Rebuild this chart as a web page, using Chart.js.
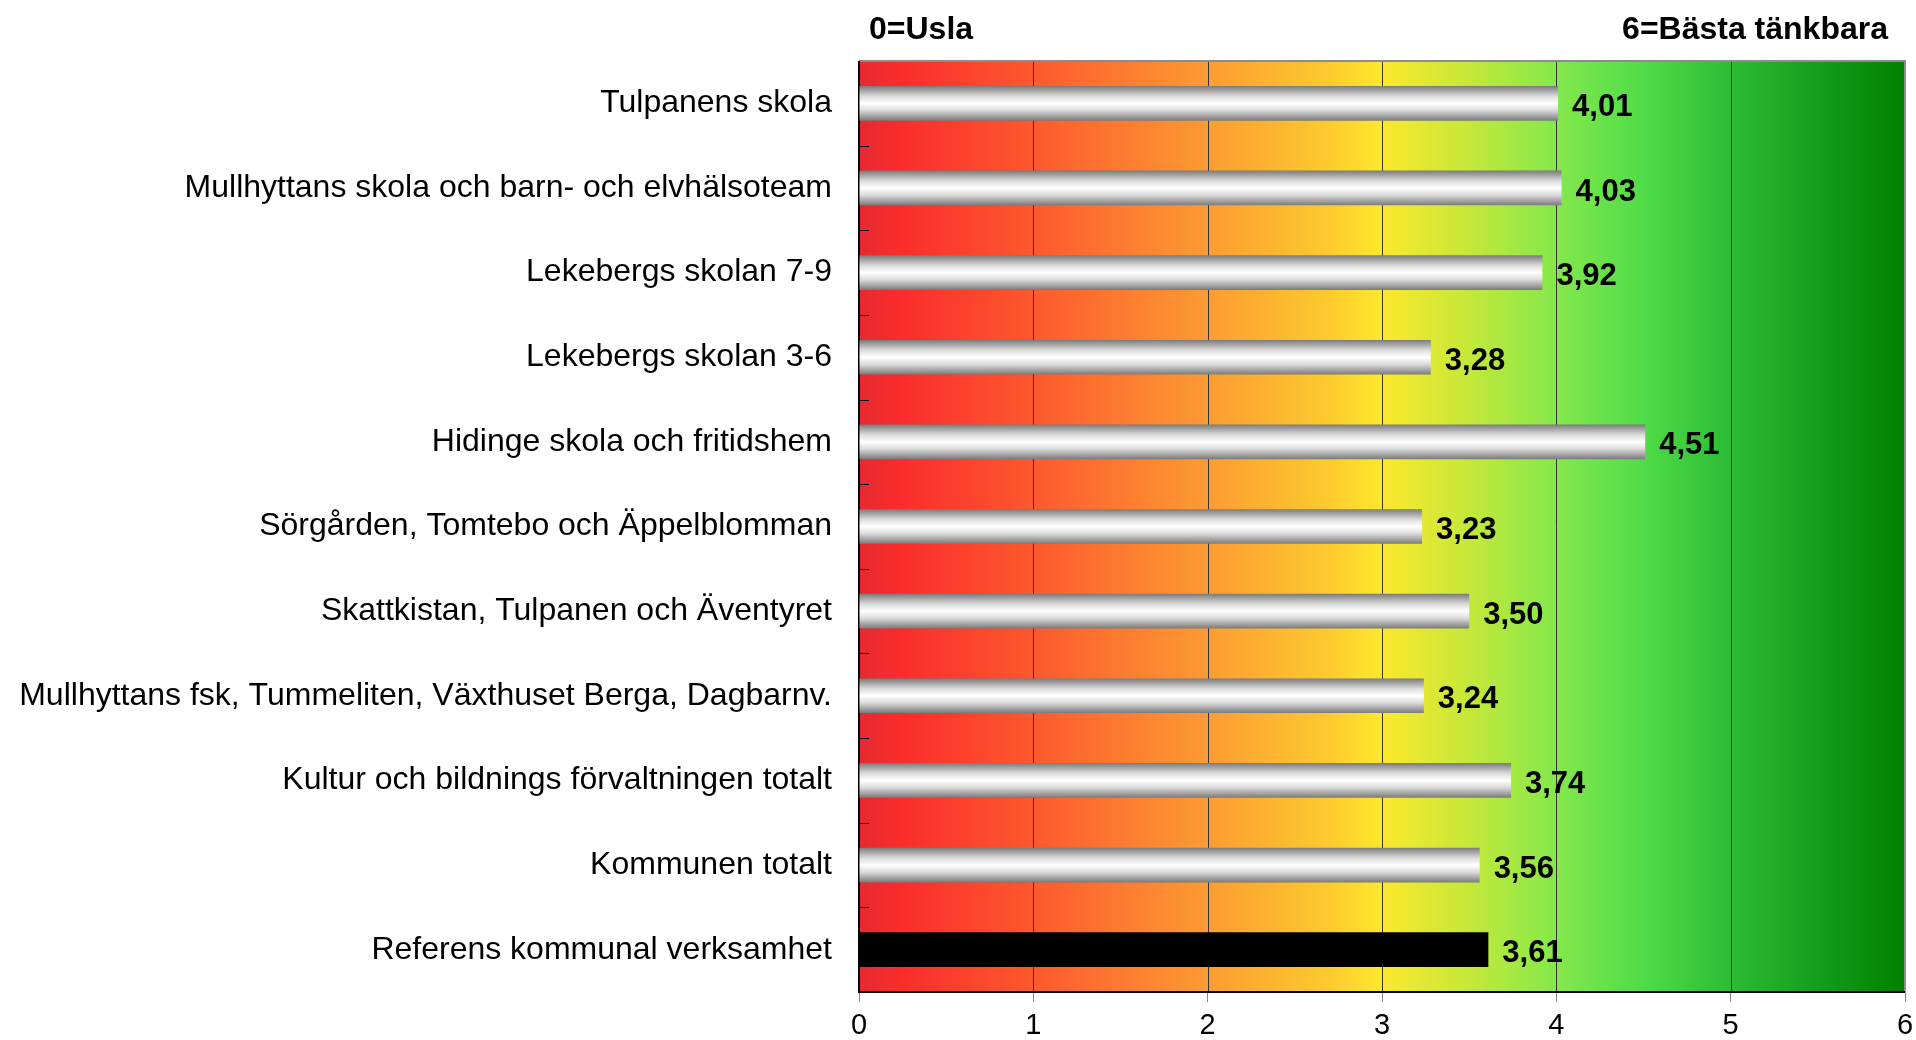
<!DOCTYPE html>
<html>
<head>
<meta charset="utf-8">
<script src="https://cdn.jsdelivr.net/npm/chart.js@4"></script>
<style>
  html, body { margin: 0; padding: 0; background: #fff; }
  #wrap { width: 1916px; height: 1040px; }
</style>
</head>
<body>
<div id="wrap"><canvas id="scoreChart"></canvas></div>
<script>
const categories = [
  'Tulpanens skola',
  'Mullhyttans skola och barn- och elvhälsoteam',
  'Lekebergs skolan 7-9',
  'Lekebergs skolan 3-6',
  'Hidinge skola och fritidshem',
  'Sörgården, Tomtebo och Äppelblomman',
  'Skattkistan, Tulpanen och Äventyret',
  'Mullhyttans fsk, Tummeliten, Växthuset Berga, Dagbarnv.',
  'Kultur och bildnings förvaltningen totalt',
  'Kommunen totalt',
  'Referens kommunal verksamhet'
];
const scores = [4.01, 4.03, 3.92, 3.28, 4.51, 3.23, 3.50, 3.24, 3.74, 3.56, 3.61];
const xTicks = [0, 1, 2, 3, 4, 5, 6];
const lowLabel = '0=Usla';
const highLabel = '6=Bästa tänkbara';

const FONT = '"Liberation Sans", Arial, sans-serif';
const BAR_PCT = 0.41;

// red -> yellow -> green band behind the bars
const bgPlugin = {
  id: 'bgPlugin',
  beforeDatasetsDraw(chart) {
    const { ctx, chartArea: a, scales: { x, y } } = chart;
    ctx.save();
    const g = ctx.createLinearGradient(a.left, 0, a.right, 0);
    g.addColorStop(0, '#e42a30');
    g.addColorStop(0.04, '#fb2c2c');
    g.addColorStop(0.17, '#fd5a2e');
    g.addColorStop(0.33, '#fc9a32');
    g.addColorStop(0.45, '#fdcb2e');
    g.addColorStop(0.5, '#fde82c');
    g.addColorStop(0.585, '#c4e83a');
    g.addColorStop(0.667, '#84e84c');
    g.addColorStop(0.75, '#50dc48');
    g.addColorStop(0.833, '#2cbc34');
    g.addColorStop(0.92, '#149c1c');
    g.addColorStop(1, '#008000');
    ctx.fillStyle = g;
    ctx.fillRect(a.left, a.top, a.right - a.left, a.bottom - a.top);

    // vertical grid
    ctx.strokeStyle = '#333';
    ctx.lineWidth = 1;
    xTicks.slice(1, -1).forEach(v => {
      const px = Math.round(x.getPixelForValue(v)) + 0.5;
      ctx.beginPath();
      ctx.moveTo(px, a.top);
      ctx.lineTo(px, a.bottom);
      ctx.stroke();
    });

    // small inner ticks at category borders
    ctx.strokeStyle = '#000';
    for (let i = 1; i < categories.length; i++) {
      const py = Math.round((y.getPixelForValue(i - 1) + y.getPixelForValue(i)) / 2) + 0.5;
      ctx.beginPath();
      ctx.moveTo(a.left, py);
      ctx.lineTo(a.left + 10, py);
      ctx.stroke();
    }

    // frame
    ctx.strokeStyle = '#8c8c8c';
    ctx.lineWidth = 2;
    ctx.beginPath();
    ctx.moveTo(a.left, a.top);
    ctx.lineTo(a.right, a.top);
    ctx.lineTo(a.right, a.bottom);
    ctx.stroke();
    ctx.strokeStyle = '#000';
    ctx.beginPath();
    ctx.moveTo(a.left, a.top);
    ctx.lineTo(a.left, a.bottom);
    ctx.lineTo(a.right, a.bottom);
    ctx.stroke();
    ctx.restore();
  },
  afterDatasetsDraw(chart) {
    const { ctx, chartArea: a } = chart;
    const meta = chart.getDatasetMeta(0);
    ctx.save();
    ctx.fillStyle = '#000';
    ctx.font = 'bold 31px ' + FONT;
    ctx.textBaseline = 'middle';
    ctx.textAlign = 'left';
    meta.data.forEach((bar, i) => {
      ctx.fillText(scores[i].toFixed(2).replace('.', ','), bar.x + 14, bar.y + 4);
    });
    ctx.font = 'bold 32px ' + FONT;
    ctx.textBaseline = 'alphabetic';
    ctx.fillText(lowLabel, a.left + 10, 39);
    ctx.textAlign = 'right';
    ctx.fillText(highLabel, a.right - 17, 39);
    ctx.restore();
  }
};

function barFill(context) {
  if (context.dataIndex === scores.length - 1) return '#000';
  const chart = context.chart;
  const y = chart.scales && chart.scales.y;
  if (!chart.chartArea || !y) return '#ccc';
  const cy = y.getPixelForValue(context.dataIndex);
  const h = (chart.chartArea.bottom - chart.chartArea.top) / categories.length * BAR_PCT;
  if (!Number.isFinite(cy) || !Number.isFinite(h)) return '#ccc';
  const g = chart.ctx.createLinearGradient(0, cy - h / 2, 0, cy + h / 2);
  g.addColorStop(0, '#7a7a7a');
  g.addColorStop(0.3, '#dcdcdc');
  g.addColorStop(0.5, '#ffffff');
  g.addColorStop(0.7, '#dcdcdc');
  g.addColorStop(1, '#7a7a7a');
  return g;
}

new Chart(document.getElementById('scoreChart'), {
  type: 'bar',
  data: {
    labels: categories,
    datasets: [{
      data: scores,
      backgroundColor: barFill,
      borderWidth: 0,
      categoryPercentage: 1,
      barPercentage: BAR_PCT
    }]
  },
  options: {
    indexAxis: 'y',
    responsive: true,
    maintainAspectRatio: false,
    animation: false,
    layout: { padding: { top: 61, right: 0, left: 0, bottom: 0 } },
    plugins: {
      legend: { display: false },
      tooltip: { enabled: false }
    },
    scales: {
      x: {
        min: 0,
        max: 6,
        afterBuildTicks: axis => { axis.ticks = xTicks.map(v => ({ value: v })); },
        afterFit: axis => { axis.height = 48; axis.paddingRight = 11; },
        grid: { drawOnChartArea: false, color: '#888', tickLength: 10 },
        border: { display: false },
        ticks: {
          color: '#000',
          font: { family: FONT, size: 29 },
          padding: 7,
          maxRotation: 0
        }
      },
      y: {
        grid: { display: false },
        border: { display: false },
        afterFit: axis => { axis.width = 859; },
        ticks: {
          color: '#000',
          font: { family: FONT, size: 32 },
          padding: 19
        }
      }
    }
  },
  plugins: [bgPlugin]
});
</script>
</body>
</html>
